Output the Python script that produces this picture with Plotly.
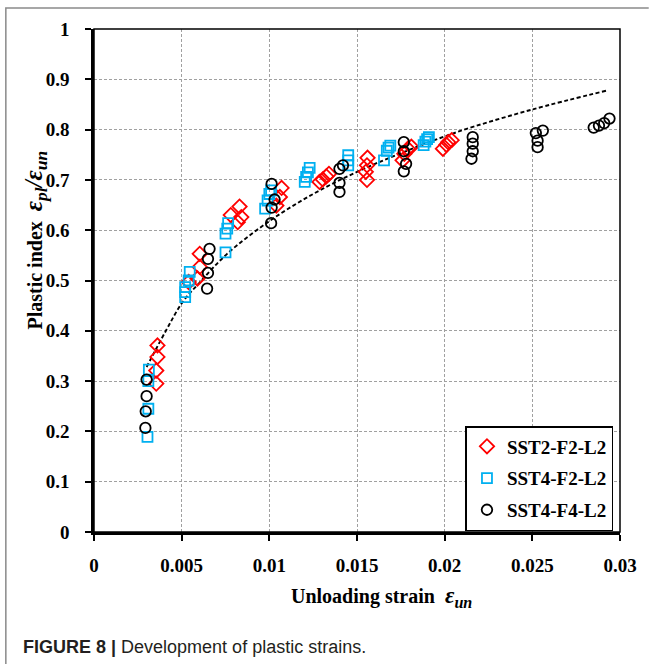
import plotly.graph_objects as go

# ---- data ----
sst2_f2_x = [0.00362, 0.00362, 0.00355, 0.00355,
             0.00603, 0.00603, 0.0059, 0.0054,
             0.0078, 0.0083, 0.0084, 0.0082,
             0.0107, 0.0106, 0.0104,
             0.01286, 0.01305, 0.01325, 0.0134,
             0.0156, 0.01557, 0.0155, 0.01557,
             0.0177, 0.0176, 0.0179, 0.0181,
             0.0199, 0.0201, 0.0202, 0.0204]
sst2_f2_y = [0.371, 0.348, 0.321, 0.295,
             0.553, 0.527, 0.504, 0.497,
             0.630, 0.647, 0.626, 0.616,
             0.684, 0.666, 0.649,
             0.696, 0.701, 0.707, 0.712,
             0.744, 0.729, 0.716, 0.700,
             0.752, 0.739, 0.762, 0.766,
             0.762, 0.770, 0.775, 0.779]

sst4_f2_x = [0.00313, 0.0031, 0.0031, 0.00305,
             0.00546, 0.0054, 0.0052, 0.0052, 0.0052,
             0.00765, 0.0076, 0.0075, 0.0075,
             0.00976, 0.0099, 0.0100, 0.0101,
             0.01202, 0.0121, 0.0122, 0.0123,
             0.0145, 0.0145, 0.0145,
             0.01654, 0.0167, 0.0168, 0.0169,
             0.0188, 0.0189, 0.0190, 0.0191]
sst4_f2_y = [0.323, 0.300, 0.245, 0.189,
             0.517, 0.500, 0.487, 0.477, 0.467,
             0.614, 0.603, 0.593, 0.556,
             0.643, 0.659, 0.672, 0.679,
             0.696, 0.706, 0.715, 0.724,
             0.749, 0.739, 0.729,
             0.739, 0.758, 0.764, 0.768,
             0.769, 0.776, 0.781, 0.785]

sst4_f4_x = [0.0030, 0.0030, 0.00295, 0.00293,
             0.00659, 0.0065, 0.0065, 0.00645,
             0.01013, 0.0103, 0.01013, 0.0101,
             0.0140, 0.0142, 0.0140, 0.0140,
             0.01767, 0.01767, 0.0178, 0.01767,
             0.02153, 0.0216, 0.0216, 0.0216,
             0.0253, 0.0253, 0.0252, 0.0256,
             0.0285, 0.0288, 0.0291, 0.0294]
sst4_f4_y = [0.303, 0.270, 0.240, 0.207,
             0.563, 0.543, 0.515, 0.484,
             0.692, 0.661, 0.645, 0.614,
             0.722, 0.729, 0.694, 0.676,
             0.775, 0.757, 0.732, 0.717,
             0.742, 0.757, 0.772, 0.785,
             0.765, 0.778, 0.793, 0.798,
             0.804, 0.808, 0.813, 0.822]

# dashed trend curve
fit_x = [0.0030, 0.0041, 0.00505, 0.0060, 0.00759, 0.0100, 0.0125,
         0.0150, 0.0175, 0.0207, 0.0250, 0.0293]
fit_y = [0.328, 0.400, 0.457, 0.495, 0.553, 0.618, 0.672,
         0.716, 0.753, 0.795, 0.840, 0.878]

x_ticks = [0, 0.005, 0.01, 0.015, 0.02, 0.025, 0.03]
x_ticktext = ["0", "0.005", "0.01", "0.015", "0.02", "0.025", "0.03"]
y_ticks = [0, 0.1, 0.2, 0.3, 0.4, 0.5, 0.6, 0.7, 0.8, 0.9, 1.0]
y_ticktext = ["0", "0.1", "0.2", "0.3", "0.4", "0.5", "0.6", "0.7", "0.8", "0.9", "1"]

series_names = ["SST2-F2-L2", "SST4-F2-L2", "SST4-F4-L2"]

# ---- layout geometry (pixels) ----
W, H = 649, 664
L, R, T, B = 94, 24, 29, 132
PW, PH = W - L - R, H - T - B


def px(xp):
    return (xp - L) / PW


def py(yp):
    return (H - B - yp) / PH


SERIF = "Liberation Serif"

fig = go.Figure()

fig.add_trace(go.Scatter(
    x=fit_x, y=fit_y, mode="lines", line_shape="spline",
    line=dict(color="black", width=1.9, dash="4px,2.5px"),
    showlegend=False, hoverinfo="skip"))

fig.add_trace(go.Scatter(
    x=sst2_f2_x, y=sst2_f2_y, mode="markers", name=series_names[0],
    legendgroup="a",
    marker=dict(symbol="diamond-open", size=11, color="#ff0000",
                line=dict(width=1.8, color="#ff0000"))))
fig.add_trace(go.Scatter(
    x=sst4_f2_x, y=sst4_f2_y, mode="markers", name=series_names[1],
    legendgroup="b",
    marker=dict(symbol="square-open", size=10, color="#00b0f0",
                line=dict(width=1.8, color="#00b0f0"))))
fig.add_trace(go.Scatter(
    x=sst4_f4_x, y=sst4_f4_y, mode="markers", name=series_names[2],
    legendgroup="c",
    marker=dict(symbol="circle-open", size=10.5, color="black",
                line=dict(width=1.8, color="black"))))

tickfont = dict(family=SERIF, size=19, color="black", weight="bold")

fig.update_xaxes(
    range=[0, 0.03], tickvals=x_ticks, ticktext=x_ticktext,
    showgrid=True, gridcolor="#a0a0a0", gridwidth=1, griddash="3px,2px",
    showline=True, linecolor="black", linewidth=2.5, mirror=False,
    ticks="outside", ticklen=6, tickwidth=1.5, tickcolor="black",
    tickfont=tickfont, ticklabelstandoff=8, zeroline=False)
fig.update_yaxes(
    range=[0, 1], tickvals=y_ticks, ticktext=y_ticktext,
    showgrid=True, gridcolor="#a0a0a0", gridwidth=1, griddash="3px,2px",
    showline=True, linecolor="black", linewidth=2.5, mirror=False,
    ticks="outside", ticklen=6, tickwidth=1.5, tickcolor="black",
    tickfont=tickfont, ticklabelstandoff=12, zeroline=False)

shapes = [
    dict(type="rect", xref="paper", yref="paper", x0=0, y0=0, x1=1, y1=1,
         line=dict(color="black", width=1.5), layer="above"),
    dict(type="path", xref="paper", yref="paper",
         path=f"M {px(5)},{py(H + 5)} L {px(5)},{py(8)} L {px(W + 5)},{py(8)}",
         line=dict(color="#8a8a8a", width=1.5)),
]

annotations = [
    dict(text="Plastic index &nbsp;<span style='font-size:25px'><i>ε<sub>pl</sub>/ε<sub>un</sub></i></span>",
         xref="paper", yref="paper", x=px(34), y=py(240),
         xanchor="center", yanchor="middle", textangle=-90, showarrow=False,
         font=dict(family=SERIF, size=20, color="black", weight="bold")),
    dict(text="Unloading strain  <span style='font-size:23px'><i>ε<sub>un</sub></i></span>",
         xref="paper", yref="paper", x=px(384), y=py(597),
         xanchor="center", yanchor="middle", showarrow=False,
         font=dict(family=SERIF, size=20, color="black", weight="bold")),
    dict(text="<b>FIGURE 8 |</b> Development of plastic strains.",
         xref="paper", yref="paper", x=px(20), y=py(647),
         xanchor="left", yanchor="middle", showarrow=False,
         font=dict(family="Liberation Sans", size=18, color="#231f20")),
]

fig.update_layout(
    width=W, height=H,
    margin=dict(l=L, r=R, t=T, b=B, pad=0),
    paper_bgcolor="white", plot_bgcolor="white",
    shapes=shapes, annotations=annotations,
    legend=dict(x=px(469), y=py(426), xanchor="left", yanchor="top",
                bordercolor="black", borderwidth=1.5, bgcolor="white",
                tracegroupgap=4, itemwidth=30,
                font=dict(family=SERIF, size=19, color="black", weight="bold")),
)

fig.write_html("out.html")
